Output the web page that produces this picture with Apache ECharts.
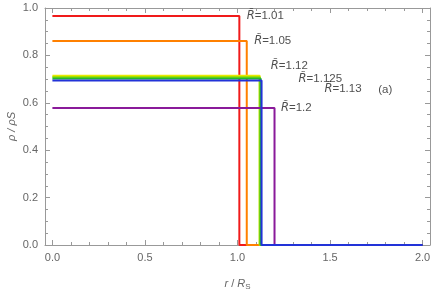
<!DOCTYPE html>
<html><head><meta charset="utf-8">
<script src="https://cdn.jsdelivr.net/npm/echarts@6/dist/echarts.min.js"></script>
<style>html,body{margin:0;padding:0;background:#fff}#c{width:436px;height:293px}</style>
</head><body><div id="c"></div>
<script>
const radii = [1.01, 1.05, 1.12, 1.12, 1.125, 1.2, 1.13];
const densities = [0.966, 0.861, 0.714, 0.709, 0.703, 0.578, 0.694];
const colors = ['#f01a1a', '#ff8000', '#e8e800', '#a0e000', '#20b830', '#8a1a9a', '#2233d8'];
const xMajor = [0, 0.5, 1.0, 1.5, 2.0];
const yMajor = [0, 0.2, 0.4, 0.6, 0.8, 1.0];
const labelTexts = ['1.01', '1.05', '1.12', '1.125', '1.13', '1.2'];
const labelPos = [[1.05, 0.966], [1.09, 0.861], [1.18, 0.755], [1.33, 0.700], [1.47, 0.658], [1.235, 0.578]];
const panelTag = '(a)';
const panelPos = [1.76, 0.655];

const xMinor = [], yMinor = [];
for (let i = 0; i <= 20; i++) xMinor.push(+(i * 0.1).toFixed(2));
for (let i = 0; i <= 20; i++) yMinor.push(+(i * 0.05).toFixed(2));

const gray = '#999';
const XMIN = -0.04, XMAX = 2.04;
function xAx(pos, ticks, len, labels, line) {
  return {type: 'value', position: pos, min: XMIN, max: XMAX,
    axisLine: {show: line, onZero: false, lineStyle: {color: gray, width: 1}},
    axisTick: {show: true, inside: true, length: len, customValues: ticks, lineStyle: {color: gray}},
    axisLabel: labels ? {show: true, customValues: xMajor, color: '#666', fontSize: 11, fontFamily: 'Liberation Sans', margin: 7, formatter: v => v.toFixed(1)} : {show: false},
    splitLine: {show: false}};
}
function yAx(pos, ticks, len, labels, line) {
  return {type: 'value', position: pos, min: 0, max: 1,
    axisLine: {show: line, onZero: false, lineStyle: {color: gray, width: 1}},
    axisTick: {show: true, inside: true, length: len, customValues: ticks, lineStyle: {color: gray}},
    axisLabel: labels ? {show: true, customValues: yMajor, color: '#666', fontSize: 11, fontFamily: 'Liberation Sans', margin: 7, formatter: v => v.toFixed(1)} : {show: false},
    splitLine: {show: false}};
}

const series = radii.map((R, i) => ({
  type: 'line', xAxisIndex: 0, yAxisIndex: 0, symbol: 'none', animation: false,
  lineStyle: {color: colors[i], width: 2}, itemStyle: {color: colors[i]},
  data: [[0, densities[i]], [R, densities[i]], [R, 0], [2, 0]]
}));

const labelData = labelTexts.map((t, i) => ({value: [labelPos[i][0], labelPos[i][1]], name: t}));
series.push({
  type: 'scatter', xAxisIndex: 0, yAxisIndex: 0, symbolSize: 0, animation: false, silent: true,
  data: labelData,
  label: {show: true, position: 'right', distance: 0,
    formatter: p => '{i|R\u0303}{n|=' + p.name + '}',
    rich: {i: {fontStyle: 'italic', fontSize: 11.5, fontFamily: 'DejaVu Sans', color: '#222'},
           n: {fontSize: 11.5, fontFamily: 'Liberation Sans', color: '#222'}}}
});
series.push({
  type: 'scatter', xAxisIndex: 0, yAxisIndex: 0, symbolSize: 0, animation: false, silent: true,
  data: [{value: panelPos, name: panelTag}],
  label: {show: true, position: 'right', distance: 0, formatter: p => p.name,
    fontSize: 11.5, fontFamily: 'Liberation Sans', color: '#222'}
});

const chart = echarts.init(document.getElementById('c'), null, {renderer: 'canvas'});
chart.setOption({
  animation: false,
  backgroundColor: '#fff',
  grid: {left: 45, right: 6, top: 8, bottom: 48, containLabel: false, outerBoundsMode: 'none'},
  xAxis: [
    Object.assign(xAx('bottom', xMajor, 5, true, true), {
      name: '{i|r}{n| / }{i|R}{s|S}', nameLocation: 'middle', nameGap: 32, nameMoveOverlap: false,
      nameTextStyle: {rich: {i: {fontStyle: 'italic', fontSize: 11, fontFamily: 'Liberation Sans', color: '#666'},
        n: {fontSize: 11, fontFamily: 'Liberation Sans', color: '#666'},
        s: {fontSize: 8, fontFamily: 'Liberation Sans', color: '#666', verticalAlign: 'bottom', padding: [6, 0, 0, 0]}}}}),
    xAx('bottom', xMinor, 3, false, false),
    xAx('top', xMajor, 5, false, true),
    xAx('top', xMinor, 3, false, false)
  ],
  yAxis: [
    Object.assign(yAx('left', yMajor, 5, true, true), {
      name: '{i|\u03c1 / \u03c1}{s|S}', nameLocation: 'middle', nameGap: 28, nameRotate: 90, nameMoveOverlap: false,
      nameTextStyle: {rich: {i: {fontStyle: 'italic', fontSize: 11, fontFamily: 'Liberation Sans', color: '#666'},
        s: {fontSize: 11, fontFamily: 'Liberation Sans', fontStyle: 'italic', color: '#666'}}}}),
    yAx('left', yMinor, 3, false, false),
    yAx('right', yMajor, 5, false, true),
    yAx('right', yMinor, 3, false, false)
  ],
  series: series
});
</script></body></html>
